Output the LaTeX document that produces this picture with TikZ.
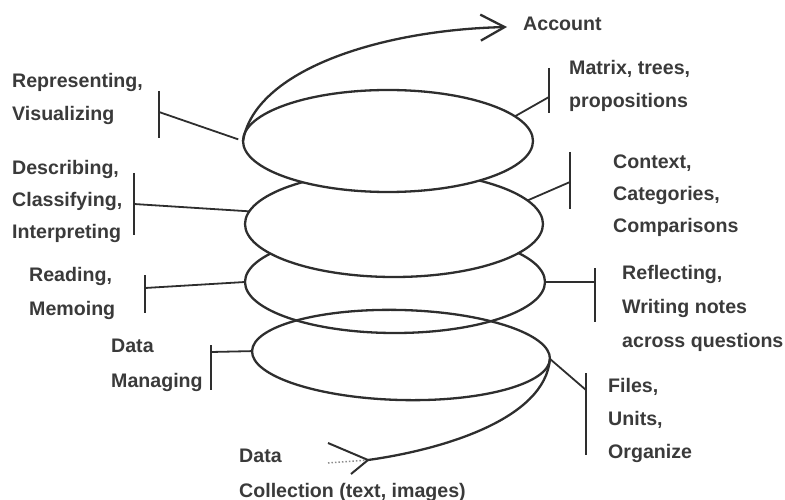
\documentclass[tikz,border=0pt]{standalone}
\usepackage{fontspec}
\setmainfont{Liberation Sans}
\usetikzlibrary{shapes.geometric,arrows.meta}
\definecolor{ink}{HTML}{2E2E2E}
\definecolor{txt}{HTML}{3A3A3A}
\begin{document}
\begin{tikzpicture}[x=1pt,y=-1pt,
  layer/.style={ellipse,draw=ink,line width=2.3pt,inner sep=0pt,outer sep=0pt},
  tick/.style={draw=ink,line width=1.8pt},
  spiral/.style={draw=ink,line width=2.3pt},
  % a label is placed by the baseline of its last line; #1 is the line spacing
  lbl/.style={anchor=base west,inner sep=0pt,align=left,text=txt,
    font=\bfseries\fontsize{19.6}{#1}\selectfont},
  lbl/.default=33.5]
\useasboundingbox (0,0) rectangle (785,500);

% the four layers, from the bottom up
\node[layer,rotate=-1.5,minimum width=298pt,minimum height=90pt] (e4) at (401,355) {};
\node[layer,minimum width=300pt,minimum height=102pt] (e3) at (395,282) {};
\node[layer,fill=white,minimum width=298pt,minimum height=106pt] (e2) at (394,224) {};
\node[layer,fill=white,minimum width=290pt,minimum height=102pt] (e1) at (388,141) {};

% labels
\node[lbl=33]   (rep)   at (12,121)  {Representing,\\Visualizing};
\node[lbl=32]   (desc)  at (12,238)  {Describing,\\Classifying,\\Interpreting};
\node[lbl=34]   (read)  at (29,315)  {Reading,\\Memoing};
\node[lbl=35]   (dm)    at (111,387) {Data\\Managing};
\node[lbl=35]   (dc)    at (239,497) {Data\\Collection (text, images)};
\node[lbl]      (acc)   at (523,31)  {Account};
\node[lbl=33]   (mat)   at (569,108) {Matrix, trees,\\propositions};
\node[lbl=32.5] (ctx)   at (613,233) {Context,\\Categories,\\Comparisons};
\node[lbl=34]   (refl)  at (622,347) {Reflecting,\\Writing notes\\across questions};
\node[lbl=33]   (files) at (608,458) {Files,\\Units,\\Organize};

% bracket bars and their attachment points
\coordinate (b1t) at (159,91);  \coordinate (b1b) at (159,138); \coordinate (b1m) at (159,112);
\coordinate (b2t) at (134,173); \coordinate (b2b) at (134,235); \coordinate (b2m) at (134,204);
\coordinate (b3t) at (145,275); \coordinate (b3b) at (145,313); \coordinate (b3m) at (145,288);
\coordinate (b4t) at (211,345); \coordinate (b4b) at (211,390); \coordinate (b4m) at (211,352);
\coordinate (b5t) at (549,68);  \coordinate (b5b) at (549,113); \coordinate (b5m) at (549,97);
\coordinate (b6t) at (570,152); \coordinate (b6b) at (570,209); \coordinate (b6m) at (570,182);
\coordinate (b7t) at (595,268); \coordinate (b7b) at (595,322); \coordinate (b7m) at (595,282);
\coordinate (b8t) at (586,373); \coordinate (b8b) at (586,455); \coordinate (b8m) at (586,390);

\draw[tick] (b1t) -- (b1b);  \draw[tick,shorten >=5pt] (b1m) -- (e1.west);
\draw[tick] (b2t) -- (b2b);  \draw[tick] (b2m) -- (e2.175);
\draw[tick] (b3t) -- (b3b);  \draw[tick] (b3m) -- (e3.west);
\draw[tick] (b4t) -- (b4b);  \draw[tick] (b4m) -- (e4.west);
\draw[tick] (b5t) -- (b5b);  \draw[tick] (b5m) -- (e1.11);
\draw[tick] (b6t) -- (b6b);  \draw[tick] (b6m) -- (e2.10);
\draw[tick] (b7t) -- (b7b);  \draw[tick] (b7m) -- (e3.east);
\draw[tick] (b8t) -- (b8b);  \draw[tick] (b8m) -- (e4.east);

% spiral out of the top layer towards the account
\coordinate (acctip) at (507,27);
\draw[spiral,-{Straight Barb[length=24pt,width=26pt]}]
  (e1.west) .. controls (255,70) and (380,30) .. (acctip);

% spiral from data collection into the bottom layer
\coordinate (dctail) at (328,463);
\coordinate (dctip)  at (368,460);
\coordinate (dcarmA) at (328,443);
\coordinate (dcarmB) at (351,474);
\draw[ink!55,dotted,line width=1.5pt] (dctail) -- (dctip);
\draw[spiral] (dctip) .. controls (440,450) and (545,420) .. (e4.east);
\draw[spiral,line width=2pt] (dcarmA) -- (dctip) -- (dcarmB);
\end{tikzpicture}
\end{document}
